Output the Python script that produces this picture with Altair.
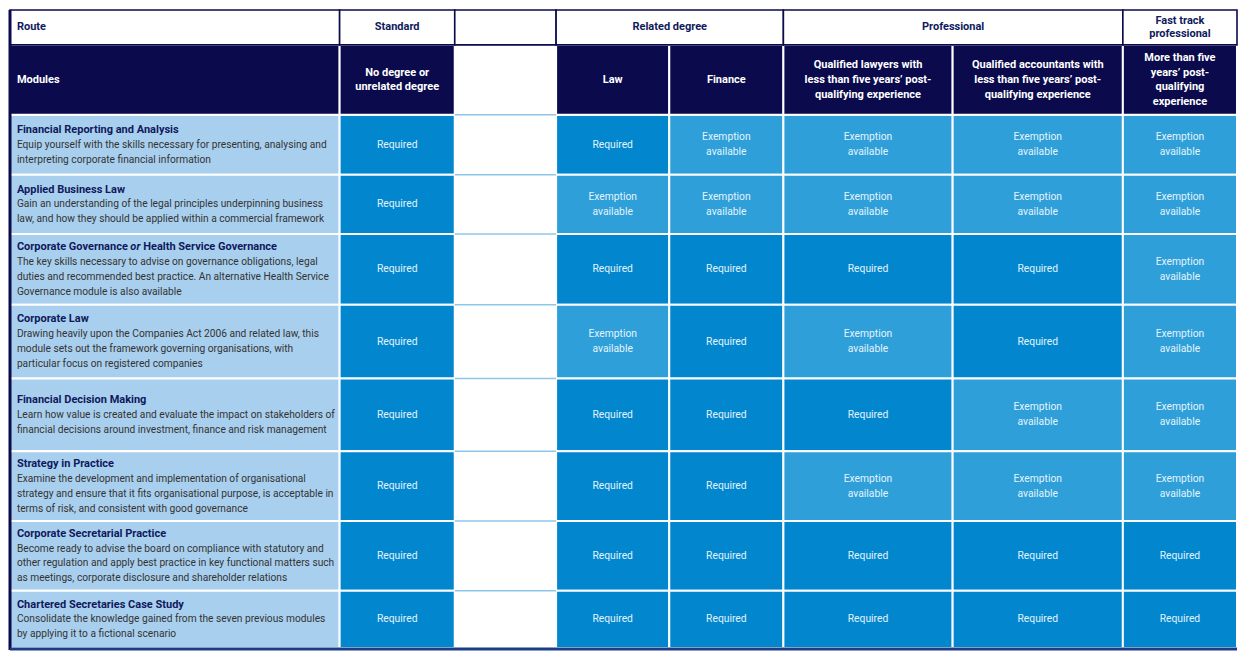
import altair as alt
import pandas as pd

# ---------------- data ----------------
group_labels = ["Route", "Standard", "", "Related degree", "Professional", "Fast track\nprofessional"]
route_labels = [
    "Modules",
    "No degree or\nunrelated degree",
    "",
    "Law",
    "Finance",
    "Qualified lawyers with\nless than five years’ post-\nqualifying experience",
    "Qualified accountants with\nless than five years’ post-\nqualifying experience",
    "More than five\nyears’ post-\nqualifying\nexperience",
]
# title pieces: (text, italic)
module_titles = [
    [("Financial Reporting and Analysis", False)],
    [("Applied Business Law", False)],
    [("Corporate Governance", False), ("or", True), ("Health Service Governance", False)],
    [("Corporate Law", False)],
    [("Financial Decision Making", False)],
    [("Strategy in Practice", False)],
    [("Corporate Secretarial Practice", False)],
    [("Chartered Secretaries Case Study", False)],
]
module_descriptions = [
    "Equip yourself with the skills necessary for presenting, analysing and\ninterpreting corporate financial information",
    "Gain an understanding of the legal principles underpinning business\nlaw, and how they should be applied within a commercial framework",
    "The key skills necessary to advise on governance obligations, legal\nduties and recommended best practice. An alternative Health Service\nGovernance module is also available",
    "Drawing heavily upon the Companies Act 2006 and related law, this\nmodule sets out the framework governing organisations, with\nparticular focus on registered companies",
    "Learn how value is created and evaluate the impact on stakeholders of\nfinancial decisions around investment, finance and risk management",
    "Examine the development and implementation of organisational\nstrategy and ensure that it fits organisational purpose, is acceptable in\nterms of risk, and consistent with good governance",
    "Become ready to advise the board on compliance with statutory and\nother regulation and apply best practice in key functional matters such\nas meetings, corporate disclosure and shareholder relations",
    "Consolidate the knowledge gained from the seven previous modules\nby applying it to a fictional scenario",
]
R = "Required"
E = "Exemption available"
standard = [R, R, R, R, R, R, R, R]
law = [R, E, R, E, R, R, R, R]
finance = [E, E, R, R, R, R, R, R]
lawyers = [E, E, R, E, R, E, R, R]
accountants = [E, E, R, R, E, E, R, R]
fast_track = [E, E, E, E, E, E, R, R]

# ---------------- layout (table geometry in layout units) ----------------
COL_EDGES = [0, 335, 452, 555, 670, 786, 958, 1131, 1247]
ROW_EDGES = [0, 36, 108, 170, 231, 304, 380, 455, 527, 599, 658]
GROUP_SPANS = [(0, 1), (1, 2), (2, 3), (3, 5), (5, 7), (7, 8)]
STATUS_COLS = [(1, standard), (3, law), (4, finance), (5, lawyers), (6, accountants), (7, fast_track)]
TOTAL_W, TOTAL_H = 1247, 660
W, H = 1231, 644
KY = H / TOTAL_H
KX = W / TOTAL_W
PAD_X = 7

NAVY = "#0a0a4c"
REQ = "#0287cf"
EXM = "#2e9fd9"
MOD_BG = "#a9cfee"
CELL_TXT = "#e3f4fc"
TITLE_TXT = "#0f1a5c"
DESC_TXT = "#333333"
GAP_LINE = "#8ec7e8"
FONT = "Roboto"

TITLE_SIZE = 11
DESC_SIZE = 10.2
HEAD_SIZE = 11

status_fill = {R: REQ, E: EXM}
status_text = {R: "Required", E: "Exemption\navailable"}


def first_line_y(center, text, lh_units):
    n = text.count("\n") + 1
    return center - (n - 1) * lh_units / 2


# approximate Roboto Bold advance widths (em) used to place the italic "or"
BOLD_W = {"C": .65, "o": .57, "r": .35, "p": .57, "a": .54, "t": .34, "e": .54, " ": .25,
          "G": .68, "v": .50, "n": .56, "c": .53}


def bold_width_units(s, size):
    return sum(BOLD_W.get(ch, .55) for ch in s) * size / KX


# ---------------- build tables ----------------
rects = []
for ri in range(8):
    y0, y1 = ROW_EDGES[ri + 2], ROW_EDGES[ri + 3]
    rects.append(dict(x=COL_EDGES[0], x2=COL_EDGES[1], y=y0, y2=y1, fill=MOD_BG, stroke="white", sw=2))
    rects.append(dict(x=COL_EDGES[2], x2=COL_EDGES[3], y=y0, y2=y1, fill="white", stroke="white", sw=0))
    for ci, vals in STATUS_COLS:
        rects.append(dict(x=COL_EDGES[ci], x2=COL_EDGES[ci + 1], y=y0, y2=y1,
                          fill=status_fill[vals[ri]], stroke="white", sw=2))
for ci in range(8):
    if ci == 2:
        rects.append(dict(x=COL_EDGES[ci], x2=COL_EDGES[ci + 1], y=ROW_EDGES[1], y2=ROW_EDGES[2],
                          fill="white", stroke="white", sw=0))
    else:
        rects.append(dict(x=COL_EDGES[ci], x2=COL_EDGES[ci + 1], y=ROW_EDGES[1], y2=ROW_EDGES[2],
                          fill=NAVY, stroke="white", sw=2))
for a, b in GROUP_SPANS:
    rects.append(dict(x=COL_EDGES[a], x2=COL_EDGES[b], y=ROW_EDGES[0], y2=ROW_EDGES[1],
                      fill="white", stroke=NAVY, sw=1.6))
rect_df = pd.DataFrame(rects)
rect_df["order"] = range(len(rect_df))

gap_df = pd.DataFrame([dict(x=COL_EDGES[2], x2=COL_EDGES[3], y=ROW_EDGES[k]) for k in range(2, 10)])

border_df = pd.DataFrame([
    dict(x=0, x2=0, y=0, y2=TOTAL_H, c=NAVY, w=3),
    dict(x=0, x2=TOTAL_W, y=659, y2=659, c="#1b3d86", w=3),
])

HEAD_LH = 15.0
g_txt = []
for (a, b), lab in zip(GROUP_SPANS, group_labels):
    if not lab:
        continue
    yc = first_line_y((ROW_EDGES[0] + ROW_EDGES[1]) / 2, lab, 14.0)
    if a == 0:
        g_txt.append(dict(x=COL_EDGES[0] + PAD_X, y=yc, t=lab, al="left"))
    else:
        g_txt.append(dict(x=(COL_EDGES[a] + COL_EDGES[b]) / 2, y=yc, t=lab, al="center"))
g_df = pd.DataFrame(g_txt)

h_txt = []
for ci, lab in enumerate(route_labels):
    if not lab:
        continue
    yc = first_line_y((ROW_EDGES[1] + ROW_EDGES[2]) / 2, lab, HEAD_LH)
    if ci == 0:
        h_txt.append(dict(x=COL_EDGES[0] + PAD_X, y=yc, t=lab, al="left"))
    else:
        h_txt.append(dict(x=(COL_EDGES[ci] + COL_EDGES[ci + 1]) / 2, y=yc, t=lab, al="center"))
h_df = pd.DataFrame(h_txt)

LH_U = 15.3
t_rows, d_rows = [], []
for ri, (pieces, dd) in enumerate(zip(module_titles, module_descriptions)):
    yc = (ROW_EDGES[ri + 2] + ROW_EDGES[ri + 3]) / 2
    n_desc = dd.count("\n") + 1
    ty = yc - n_desc * LH_U / 2
    xpos = PAD_X
    for txt, ital in pieces:
        t_rows.append(dict(x=xpos, y=ty, t=txt, st="italic" if ital else "normal"))
        xpos += bold_width_units(txt + " ", TITLE_SIZE)
    d_rows.append(dict(x=PAD_X, y=ty + LH_U, t=dd))
t_df = pd.DataFrame(t_rows)
d_df = pd.DataFrame(d_rows)

S_LH = 15.5
s_rows = []
for ci, vals in STATUS_COLS:
    for ri, v in enumerate(vals):
        lab = status_text[v]
        s_rows.append(dict(x=(COL_EDGES[ci] + COL_EDGES[ci + 1]) / 2,
                           y=first_line_y((ROW_EDGES[ri + 2] + ROW_EDGES[ri + 3]) / 2, lab, S_LH),
                           t=lab))
s_df = pd.DataFrame(s_rows)

# ---------------- chart ----------------
xs = alt.Scale(domain=[0, TOTAL_W], nice=False, zero=False)
ys = alt.Scale(domain=[0, TOTAL_H], nice=False, zero=False, reverse=True)
X = lambda f="x": alt.X(f"{f}:Q", scale=xs, axis=None)
Y = lambda f="y": alt.Y(f"{f}:Q", scale=ys, axis=None)

rect_layer = alt.Chart(rect_df).mark_rect().encode(
    x=X(), x2="x2:Q", y=Y(), y2="y2:Q",
    fill=alt.Fill("fill:N", scale=None),
    stroke=alt.Stroke("stroke:N", scale=None),
    strokeWidth=alt.StrokeWidth("sw:Q", scale=None),
    order="order:Q",
)
gap_layer = alt.Chart(gap_df).mark_rule(color=GAP_LINE, strokeWidth=1.5).encode(
    x=X(), x2="x2:Q", y=Y()
)
border_layer = alt.Chart(border_df).mark_rule().encode(
    x=X(), x2="x2:Q", y=Y(), y2="y2:Q",
    color=alt.Color("c:N", scale=None),
    strokeWidth=alt.StrokeWidth("w:Q", scale=None),
)


def text_layer(df, color, size, weight, align, lh_units, style=None):
    kw = dict(font=FONT, fontSize=size, fontWeight=weight, color=color, align=align,
              baseline="middle", lineBreak="\n", lineHeight=lh_units * KY)
    if style:
        kw["fontStyle"] = style
    return alt.Chart(df).mark_text(**kw).encode(x=X(), y=Y(), text="t:N")


g_left = text_layer(g_df[g_df.al == "left"], TITLE_TXT, HEAD_SIZE, "bold", "left", 14.0)
g_center = text_layer(g_df[g_df.al == "center"], TITLE_TXT, HEAD_SIZE, "bold", "center", 14.0)
h_left = text_layer(h_df[h_df.al == "left"], "white", HEAD_SIZE, "bold", "left", HEAD_LH)
h_center = text_layer(h_df[h_df.al == "center"], "white", HEAD_SIZE, "bold", "center", HEAD_LH)
title_norm = text_layer(t_df[t_df.st == "normal"], TITLE_TXT, TITLE_SIZE, "bold", "left", LH_U)
title_ital = text_layer(t_df[t_df.st == "italic"], TITLE_TXT, TITLE_SIZE, "bold", "left", LH_U, "italic")
desc_layer = text_layer(d_df, DESC_TXT, DESC_SIZE, "normal", "left", LH_U)
status_layer = text_layer(s_df, CELL_TXT, 10.3, "normal", "center", S_LH)

chart = alt.layer(
    rect_layer, gap_layer, border_layer,
    g_left, g_center, h_left, h_center, title_norm, title_ital, desc_layer, status_layer,
).properties(
    width=W, height=H, padding=0,
    autosize=alt.AutoSizeParams(type="fit", contains="padding"),
).configure_view(stroke=None)

chart.save("out.html", embed_options={"renderer": "svg", "actions": False})
